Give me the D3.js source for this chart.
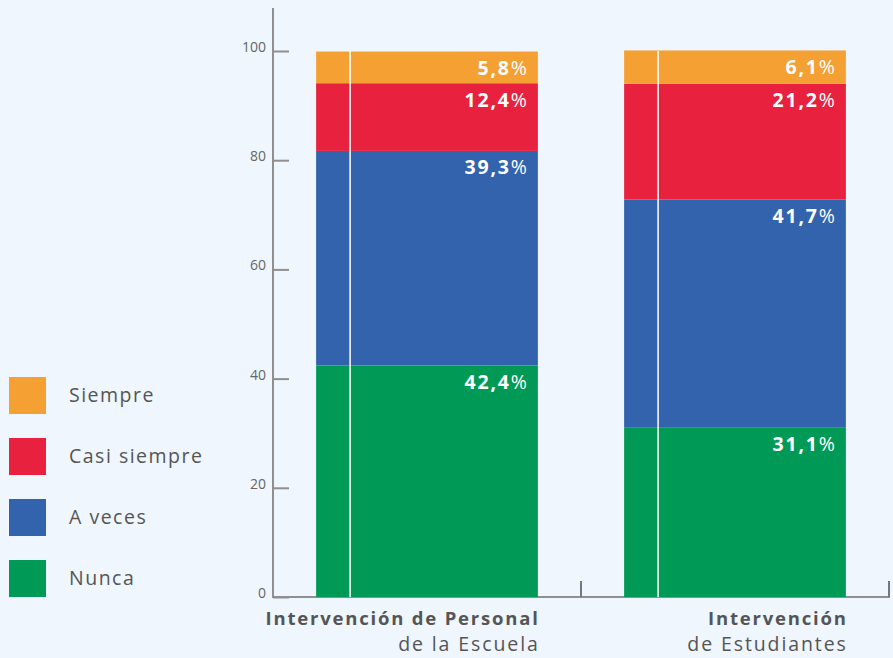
<!DOCTYPE html>
<html>
<head>
<meta charset="utf-8">
<script src="https://cdn.jsdelivr.net/npm/d3@7"></script>
<style>
  html, body { margin: 0; padding: 0; background: #eff6fd; }
  svg { display: block; font-family: "Open Sans", "DejaVu Sans", sans-serif; }
</style>
</head>
<body>
<svg id="chart" width="893" height="658"></svg>
<script>
// Frequency of interventions, stacked from the bottom up
const groups = ['personal', 'estudiantes'];
const groupTitle = ['Intervención de Personal', 'Intervención'];
const groupSub = ['de la Escuela', 'de Estudiantes'];
const series = ['Nunca', 'A veces', 'Casi siempre', 'Siempre'];
const nunca = [42.4, 31.1];
const aVeces = [39.3, 41.7];
const casiSiempre = [12.4, 21.2];
const siempre = [5.8, 6.1];
const colors = ['#009a56', '#3363ad', '#e8213e', '#f5a033'];
const yTicks = [0, 20, 40, 60, 80, 100];
const legendOrder = ['Siempre', 'Casi siempre', 'A veces', 'Nunca'];

const svg = d3.select('#chart');

const x = d3.scaleBand()
    .domain(groups)
    .range([273, 889])
    .paddingInner(0.28)
    .paddingOuter(0.14);

const y = d3.scaleLinear()
    .domain([0, 100])
    .range([597, 51]);

const color = d3.scaleOrdinal().domain(series).range(colors);

// Build rows for the stack
const rows = groups.map((g, i) => ({
    group: g,
    'Nunca': nunca[i],
    'A veces': aVeces[i],
    'Casi siempre': casiSiempre[i],
    'Siempre': siempre[i]
}));
const stacked = d3.stack().keys(series)(rows);

// Axes
const axisColor = '#8f8f8f';

const yAxis = svg.append('g')
    .attr('transform', 'translate(273,0)')
    .call(d3.axisRight(y).tickValues(yTicks).tickSize(16).tickFormat(''));
yAxis.select('.domain').remove();
yAxis.selectAll('.tick line').attr('stroke', axisColor).attr('stroke-width', 2);

svg.append('g').selectAll('text')
    .data(yTicks)
    .join('text')
    .attr('x', 266)
    .attr('y', d => y(d) + 1)
    .attr('text-anchor', 'end')
    .attr('fill', '#666')
    .attr('font-size', 14)
    .text(d => d);

svg.append('line')
    .attr('x1', 273).attr('x2', 273)
    .attr('y1', 8).attr('y2', 598)
    .attr('stroke', axisColor).attr('stroke-width', 2);

svg.append('line')
    .attr('x1', 272).attr('x2', 890)
    .attr('y1', 597).attr('y2', 597)
    .attr('stroke', axisColor).attr('stroke-width', 2);

// small upward ticks at band edges
svg.append('g').selectAll('line')
    .data([x.step() + x.range()[0], x.range()[1]])
    .join('line')
    .attr('x1', d => d).attr('x2', d => d)
    .attr('y1', 581).attr('y2', 597)
    .attr('stroke', '#777').attr('stroke-width', 2);

// Bars
const layer = svg.append('g').selectAll('g')
    .data(stacked)
    .join('g')
    .attr('fill', d => color(d.key));

layer.selectAll('rect')
    .data(d => d)
    .join('rect')
    .attr('x', d => x(d.data.group))
    .attr('width', x.bandwidth())
    .attr('y', d => y(d[1]))
    .attr('height', d => y(d[0]) - y(d[1]));

// thin white rule inside each bar
svg.append('g').selectAll('line')
    .data(groups)
    .join('line')
    .attr('x1', d => x(d) + 34).attr('x2', d => x(d) + 34)
    .attr('y1', y(100)).attr('y2', y(0))
    .attr('stroke', '#fff').attr('stroke-width', 1.5);

// Value labels near the top of each segment
const labelSpacing = 1.8;
const labels = svg.append('g')
    .attr('fill', '#fff')
    .attr('font-size', 19.5)
    .attr('letter-spacing', labelSpacing)
    .attr('text-anchor', 'end');

stacked.forEach(s => {
    s.forEach(d => {
        const t = labels.append('text')
            .attr('x', x(d.data.group) + x.bandwidth() - 11 + labelSpacing)
            .attr('y', y(d[1]) + 23.5);
        t.append('tspan').attr('font-weight', 700).text(d3.format('.1f')(d.data[s.key]).replace('.', ','));
        t.append('tspan').attr('font-weight', 400).text('%');
    });
});

// Category labels under the bars
const cat = svg.append('g')
    .attr('text-anchor', 'end')
    .attr('fill', '#555');

groups.forEach((g, i) => {
    const right = x(g) + x.bandwidth();
    cat.append('text')
        .attr('x', right + 1.8)
        .attr('y', 625)
        .attr('font-size', 18.5)
        .attr('font-weight', 700)
        .attr('letter-spacing', 1.8)
        .text(groupTitle[i]);
    cat.append('text')
        .attr('x', right + 1.9)
        .attr('y', 651)
        .attr('font-size', 19.5)
        .attr('letter-spacing', 1.9)
        .text(groupSub[i]);
});

// Legend
const legend = svg.append('g').selectAll('g')
    .data(legendOrder)
    .join('g')
    .attr('transform', (d, i) => `translate(9,${377 + i * 61})`);

legend.append('rect')
    .attr('width', 37)
    .attr('height', 37)
    .attr('fill', d => color(d));

legend.append('text')
    .attr('x', 60)
    .attr('y', 25)
    .attr('fill', '#555')
    .attr('font-size', 19.5)
    .attr('letter-spacing', 1.5)
    .text(d => d);
</script>
</body>
</html>
